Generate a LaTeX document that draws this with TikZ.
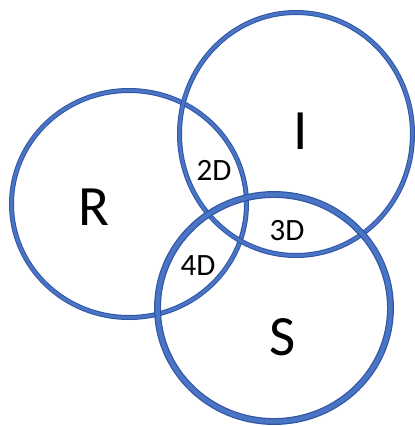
\documentclass[tikz,border=0pt]{standalone}
\usepackage{fontspec}
\setmainfont{Carlito}
\definecolor{ringedge}{HTML}{2F55A4}
\definecolor{ringfill}{HTML}{4A74C4}
\begin{document}
\begin{tikzpicture}[x=1pt,y=-1pt,
  ring/.style={draw=ringedge,line width=1pt,double=ringfill,double distance=3pt},
  bigname/.style={font=\fontsize{57}{60}\selectfont,inner sep=0pt},
  zone/.style={font=\fontsize{31}{34}\selectfont,inner sep=0pt}]
\useasboundingbox (0,0) rectangle (415,426);

\draw[ring] (129,204) ellipse [x radius=117.5,y radius=113.5];
\draw[ring] (296,134) ellipse [x radius=116.5,y radius=121.5];
\draw[ring,double distance=4.5pt,line width=1.2pt] (274,308) ellipse [x radius=116.5,y radius=113.5];

\node[bigname] (r) at (94,207) {R};
\node[bigname] (i) at (301,131) {I};
\node[bigname] (s) at (283,337) {S};

\node[zone] (rid) at (214,170) {2D};
\node[zone] (isd) at (287,231) {3D};
\node[zone] (rsd) at (198,266) {4D};
\end{tikzpicture}
\end{document}
